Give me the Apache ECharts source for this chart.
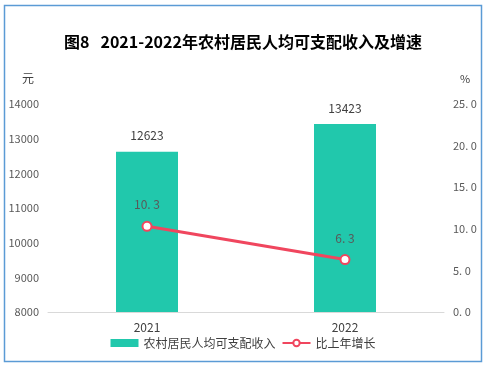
<!DOCTYPE html>
<html><head><meta charset="utf-8">
<script src="https://cdn.jsdelivr.net/npm/echarts@6/dist/echarts.min.js"></script>
<style>html,body{margin:0;padding:0;background:#fff}#c{width:486px;height:367px}</style>
</head><body><div id="c"></div>
<script>
var categories = ['2021', '2022'];
var incomeValues = [12623, 13423];
var growthValues = [10.3, 6.3];
var leftTicks = [8000, 14000, 1000];
var rightTicks = [0, 25, 5];

var chart = echarts.init(document.getElementById('c'), null, {renderer: 'canvas'});
var font = '"Noto Sans CJK SC", "DejaVu Sans", sans-serif';
chart.setOption({
  animation: false,
  textStyle: {fontFamily: font},
  graphic: [{
    type: 'rect', shape: {x: 4.5, y: 5.5, width: 477, height: 356},
    style: {fill: 'none', stroke: '#5b9bd5', lineWidth: 1.5}, silent: true
  }],
  title: {
    text: '图8   2021-2022年农村居民人均可支配收入及增速',
    left: 'center', top: 29,
    textStyle: {fontSize: 16, fontWeight: 'bold', color: '#000', fontFamily: font}
  },
  legend: {
    bottom: 13, left: 'center', itemWidth: 28, itemHeight: 8, itemGap: 6,
    textStyle: {fontSize: 12, color: '#404040', fontFamily: font},
    data: [{name: '农村居民人均可支配收入', icon: 'rect'}, {name: '比上年增长'}]
  },
  grid: {left: 48, right: 42, top: 104, bottom: 55},
  xAxis: {
    type: 'category', data: categories,
    axisLine: {lineStyle: {color: '#d9d9d9'}},
    axisTick: {show: false},
    axisLabel: {color: '#404040', fontSize: 12, margin: 9}
  },
  yAxis: [{
    type: 'value', name: '元', min: leftTicks[0], max: leftTicks[1], interval: leftTicks[2],
    nameLocation: 'end', nameGap: 20,
    nameTextStyle: {color: '#404040', fontSize: 12, align: 'right', padding: [0, 14, 0, 0]},
    axisLine: {show: false}, axisTick: {show: false}, splitLine: {show: false},
    axisLabel: {color: '#595959', fontSize: 11, margin: 9, formatter: function (v) { return String(v); }}
  }, {
    type: 'value', name: '%', min: rightTicks[0], max: rightTicks[1], interval: rightTicks[2],
    nameLocation: 'end', nameGap: 20,
    nameTextStyle: {color: '#404040', fontSize: 11, align: 'left', padding: [0, 0, 0, 16]},
    axisLine: {show: false}, axisTick: {show: false}, splitLine: {show: false},
    axisLabel: {color: '#595959', fontSize: 11, margin: 9, formatter: function (v) { return v.toFixed(1).replace('.', '. '); }}
  }],
  series: [{
    name: '农村居民人均可支配收入', type: 'bar', data: incomeValues, barWidth: 62,
    itemStyle: {color: '#21c8ac'},
    label: {show: true, position: 'top', distance: 10, color: '#404040', fontSize: 12}
  }, {
    name: '比上年增长', type: 'line', yAxisIndex: 1, data: growthValues,
    symbol: 'circle', symbolSize: 9,
    lineStyle: {color: '#f0465e', width: 3},
    itemStyle: {color: '#fff', borderColor: '#f0465e', borderWidth: 2},
    label: {show: true, position: 'top', distance: 10, color: '#595959', fontSize: 12,
      formatter: function (p) { return String(p.value).replace('.', '. '); }}
  }]
});
</script></body></html>
